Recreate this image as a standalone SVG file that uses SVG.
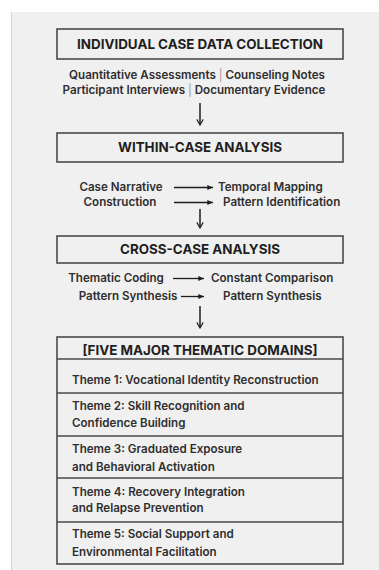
<svg xmlns="http://www.w3.org/2000/svg" width="379" height="570" viewBox="0 0 379 570">
  <defs>
    <style>
      .panel { fill: #f0f0f0; }
      .box { fill: #f0f0f0; stroke: #4a4a4a; stroke-width: 1.6; }
      .div { stroke: #4a4a4a; stroke-width: 1.6; }
      .title { font-family: Inter, "Liberation Sans", sans-serif; font-weight: 700; font-size: 13.4px; fill: #1e1e1e; text-anchor: middle; }
      .txt { font-family: Inter, "Liberation Sans", sans-serif; font-weight: 600; font-size: 11.6px; fill: #2e2e2e; }
      .mid { text-anchor: middle; }
      .sep { fill: #9a9a9a; font-weight: 400; }
      .conn { stroke: #1e1e1e; stroke-width: 1.3; fill: none; }
      .down { stroke: #1e1e1e; stroke-width: 1.5; fill: none; }
    </style>
    <marker id="head" viewBox="0 0 8 8" refX="7" refY="4" markerWidth="5" markerHeight="5" orient="auto">
      <path d="M0,1 L7,4 L0,7 Z" fill="#1e1e1e"/>
    </marker>
    <marker id="chev" viewBox="0 0 10 10" refX="9" refY="5" markerWidth="8" markerHeight="8" orient="auto" markerUnits="userSpaceOnUse">
      <path d="M2,1 L9,5 L2,9" fill="none" stroke="#1e1e1e" stroke-width="1.4"/>
    </marker>
  </defs>

  <!-- background -->
  <rect width="379" height="570" fill="#ffffff"/>
  <rect class="panel" x="11" y="12" width="368" height="558"/>
  <line x1="11.5" y1="12" x2="11.5" y2="570" stroke="#d4d4d4" stroke-width="1"/>

  <!-- stage 1 -->
  <g id="data-collection">
    <rect class="box" x="57" y="29" width="286" height="30"/>
    <text class="title" x="200" y="49">INDIVIDUAL CASE DATA COLLECTION</text>
    <text class="txt mid" x="197" y="79">Quantitative Assessments <tspan class="sep">|</tspan> Counseling Notes</text>
    <text class="txt mid" x="194" y="94">Participant Interviews <tspan class="sep">|</tspan> Documentary Evidence</text>
  </g>

  <!-- stage 2 -->
  <g id="within-case">
    <rect class="box" x="57" y="133" width="286" height="29"/>
    <text class="title" x="200" y="152">WITHIN-CASE ANALYSIS</text>
    <text class="txt mid" x="121" y="191">Case Narrative</text>
    <text class="txt" x="218" y="191">Temporal Mapping</text>
    <text class="txt mid" x="120" y="206">Construction</text>
    <text class="txt" x="223" y="206">Pattern Identification</text>
  </g>

  <!-- stage 3 -->
  <g id="cross-case">
    <rect class="box" x="57" y="236" width="286" height="27"/>
    <text class="title" x="200" y="254">CROSS-CASE ANALYSIS</text>
    <text class="txt mid" x="116" y="282">Thematic Coding</text>
    <text class="txt" x="211" y="282">Constant Comparison</text>
    <text class="txt mid" x="128" y="300">Pattern Synthesis</text>
    <text class="txt" x="223" y="300">Pattern Synthesis</text>
  </g>

  <!-- thematic domains table -->
  <g id="domains">
    <rect class="box" x="57" y="337" width="286" height="227"/>
    <text class="title" x="200" y="355">[FIVE MAJOR THEMATIC DOMAINS]</text>
    <line class="div" x1="57" y1="359" x2="343" y2="359"/>
    <line class="div" x1="57" y1="393" x2="343" y2="393"/>
    <line class="div" x1="57" y1="436" x2="343" y2="436"/>
    <line class="div" x1="57" y1="478" x2="343" y2="478"/>
    <line class="div" x1="57" y1="522" x2="343" y2="522"/>
  </g>
  <g id="theme-1">
    <text class="txt" x="72" y="384">Theme 1: Vocational Identity Reconstruction</text>
  </g>
  <g id="theme-2">
    <text class="txt" x="72" y="410">Theme 2: Skill Recognition and</text>
    <text class="txt" x="72" y="427">Confidence Building</text>
  </g>
  <g id="theme-3">
    <text class="txt" x="72" y="453">Theme 3: Graduated Exposure</text>
    <text class="txt" x="72" y="471">and Behavioral Activation</text>
  </g>
  <g id="theme-4">
    <text class="txt" x="72" y="496">Theme 4: Recovery Integration</text>
    <text class="txt" x="72" y="512">and Relapse Prevention</text>
  </g>
  <g id="theme-5">
    <text class="txt" x="72" y="538">Theme 5: Social Support and</text>
    <text class="txt" x="72" y="556">Environmental Facilitation</text>
  </g>

  <!-- connectors -->
  <g id="connectors">
    <line class="down" x1="200" y1="103" x2="200" y2="125" marker-end="url(#chev)"/>
    <line class="down" x1="200" y1="209" x2="200" y2="228" marker-end="url(#chev)"/>
    <line class="down" x1="200" y1="306" x2="200" y2="328" marker-end="url(#chev)"/>
    <line class="conn" x1="174" y1="187.5" x2="213" y2="187.5" marker-end="url(#head)"/>
    <line class="conn" x1="174" y1="202.5" x2="213" y2="202.5" marker-end="url(#head)"/>
    <line class="conn" x1="173" y1="278.5" x2="204" y2="278.5" marker-end="url(#head)"/>
    <line class="conn" x1="181" y1="296.5" x2="204" y2="296.5" marker-end="url(#head)"/>
  </g>
</svg>
